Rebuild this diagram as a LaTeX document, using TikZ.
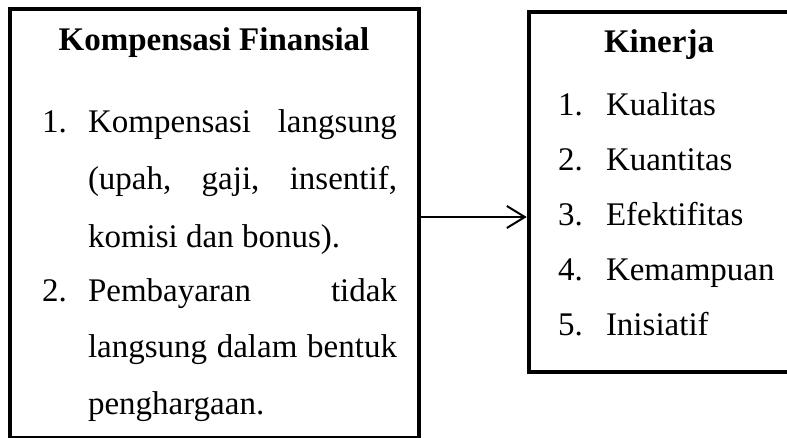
\documentclass[tikz,border=0pt]{standalone}
\usepackage{fontspec}
\setmainfont{Liberation Serif}
\usetikzlibrary{arrows.meta}
\tikzset{
  frame/.style={draw=black, line width=4.5pt, rectangle, inner sep=0pt, fill=none},
  openframe/.style={draw=black, line width=4.5pt, line join=miter},
  txt/.style={inner sep=0pt, outer sep=0pt, anchor=base west, font=\fontsize{33}{40}\selectfont},
  ttl/.style={inner sep=0pt, outer sep=0pt, anchor=base, font=\fontsize{33}{40}\selectfont\bfseries},
  conn/.style={line width=2pt, -{Straight Barb[length=18pt,width=22pt,line width=2pt]}}
}
\newcommand{\jline}[1]{\makebox[309pt][s]{#1}}
\begin{document}
\begin{tikzpicture}[x=1pt,y=-1pt]
\useasboundingbox (0,0) rectangle (787,437);
\clip (0,0) rectangle (787,437);
\fill[white] (0,0) rectangle (787,437);
% left box
\node[frame, minimum width=409pt, minimum height=429pt] (lbox) at (214.5,9+214.5) {};
% right box (its right side lies beyond the picture's edge)
\coordinate (rbl) at (529,372);
\coordinate (rtl) at (529,12);
\coordinate (rboxw) at (526.75,217);
\draw[openframe] (800,372) -- (rbl) -- (rtl) -- (800,12);
% left titles and text
\node[ttl] (ltitle) at (214,50) {Kompensasi Finansial};
\node[txt] (n1) at (42,132) {1.};
\node[txt] (l1) at (88,132) {\jline{Kompensasi langsung}};
\node[txt] (l2) at (88,189) {\jline{(upah, gaji, insentif,}};
\node[txt] (l3) at (88,247) {komisi dan bonus).};
\node[txt] (n2) at (42,301) {2.};
\node[txt] (l4) at (88,301) {\jline{Pembayaran tidak}};
\node[txt] (l5) at (88,357) {\jline{langsung dalam bentuk}};
\node[txt] (l6) at (88,414) {penghargaan.};
% right
\node[ttl] (rtitle) at (659,52) {Kinerja};
\node[txt] (r1n) at (558,115) {1.};
\node[txt] (r1) at (606,115) {Kualitas};
\node[txt] (r2n) at (558,170) {2.};
\node[txt] (r2) at (606,170) {Kuantitas};
\node[txt] (r3n) at (558,225) {3.};
\node[txt] (r3) at (606,225) {Efektifitas};
\node[txt] (r4n) at (558,280) {4.};
\node[txt] (r4) at (606,280) {Kemampuan};
\node[txt] (r5n) at (558,335) {5.};
\node[txt] (r5) at (606,335) {Inisiatif};
% connector
\coordinate (a) at (lbox.east |- 0,217);
\draw[conn] (a) -- (rboxw);
\end{tikzpicture}
\end{document}
